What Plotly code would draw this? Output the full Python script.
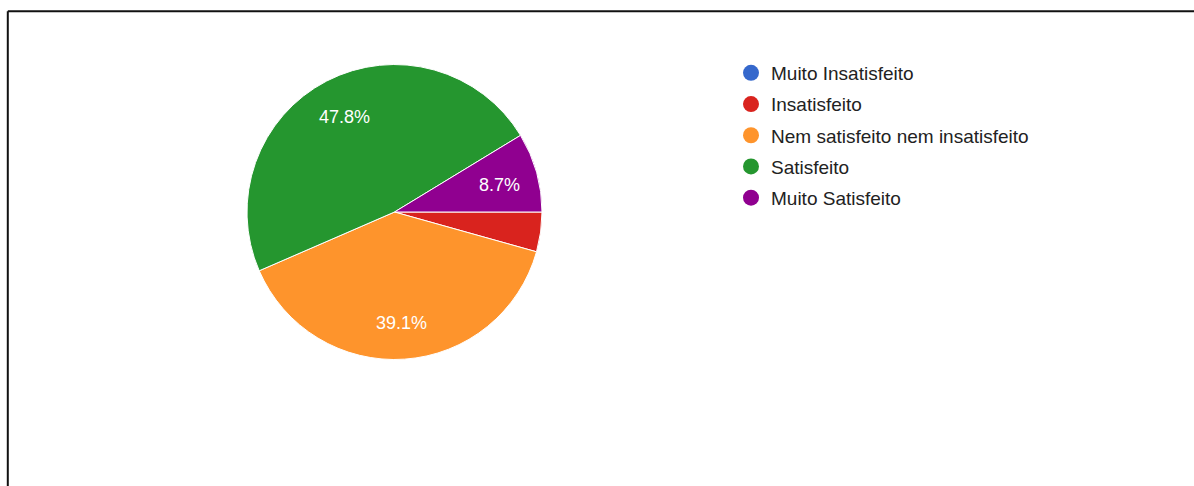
import math
import plotly.graph_objects as go

categories = ["Muito Insatisfeito", "Insatisfeito", "Nem satisfeito nem insatisfeito", "Satisfeito", "Muito Satisfeito"]
counts = [0, 1, 9, 11, 2]
colors = ["#3568CC", "#D9231E", "#FE942C", "#25962F", "#900090"]

W, H = 1194, 486
total = sum(counts)

cx, cy, r = 394.5, 212.0, 147.5
label_radius = 0.74

fig = go.Figure()
fig.add_trace(go.Pie(
    labels=categories,
    values=counts,
    textinfo="none",
    sort=False,
    direction="clockwise",
    rotation=90,
    marker=dict(colors=colors, line=dict(color="white", width=1)),
    showlegend=False,
    hoverinfo="label+percent",
    domain=dict(x=[(cx - r) / W, (cx + r) / W], y=[1 - (cy + r) / H, 1 - (cy - r) / H]),
))

for i, (name, col) in enumerate(zip(categories, colors)):
    fig.add_trace(go.Scatter(
        x=[None], y=[None], mode="markers", name=name,
        marker=dict(symbol="circle", size=20, color=col),
        legendgroup=f"g{i}", showlegend=True,
    ))

# percentage labels placed along each slice's mid-angle (computed from the data)
annotations = []
cum = 0.0
for c in counts:
    frac = c / total
    mid = (cum + frac / 2) * 2 * math.pi
    cum += frac
    if frac < 0.05:
        continue
    px = cx + label_radius * r * math.cos(mid)
    py = cy + label_radius * r * math.sin(mid)
    annotations.append(dict(
        x=px / W, y=1 - py / H, xref="paper", yref="paper",
        text=f"{frac * 100:.1f}%", showarrow=False,
        xanchor="center", yanchor="middle", yshift=-2,
        font=dict(family="Arial, Liberation Sans, sans-serif", size=18, color="white"),
    ))

fig.update_layout(
    width=W, height=H,
    margin=dict(l=0, r=0, t=0, b=0),
    paper_bgcolor="white", plot_bgcolor="white",
    xaxis=dict(visible=False), yaxis=dict(visible=False),
    legend=dict(
        x=731 / W, y=1 - 54 / H, xanchor="left", yanchor="top",
        font=dict(family="Arial, Liberation Sans, sans-serif", size=19, color="#222222"),
        tracegroupgap=3.5, bgcolor="rgba(0,0,0,0)", itemsizing="trace",
    ),
    annotations=annotations,
    shapes=[
        dict(type="line", xref="paper", yref="paper", x0=7.8 / W, x1=1.0, y0=1 - 11.3 / H, y1=1 - 11.3 / H,
             line=dict(color="#111111", width=2)),
        dict(type="line", xref="paper", yref="paper", x0=7.8 / W, x1=7.8 / W, y0=0, y1=1 - 11.3 / H,
             line=dict(color="#111111", width=2)),
    ],
)

fig.write_html("out.html")
